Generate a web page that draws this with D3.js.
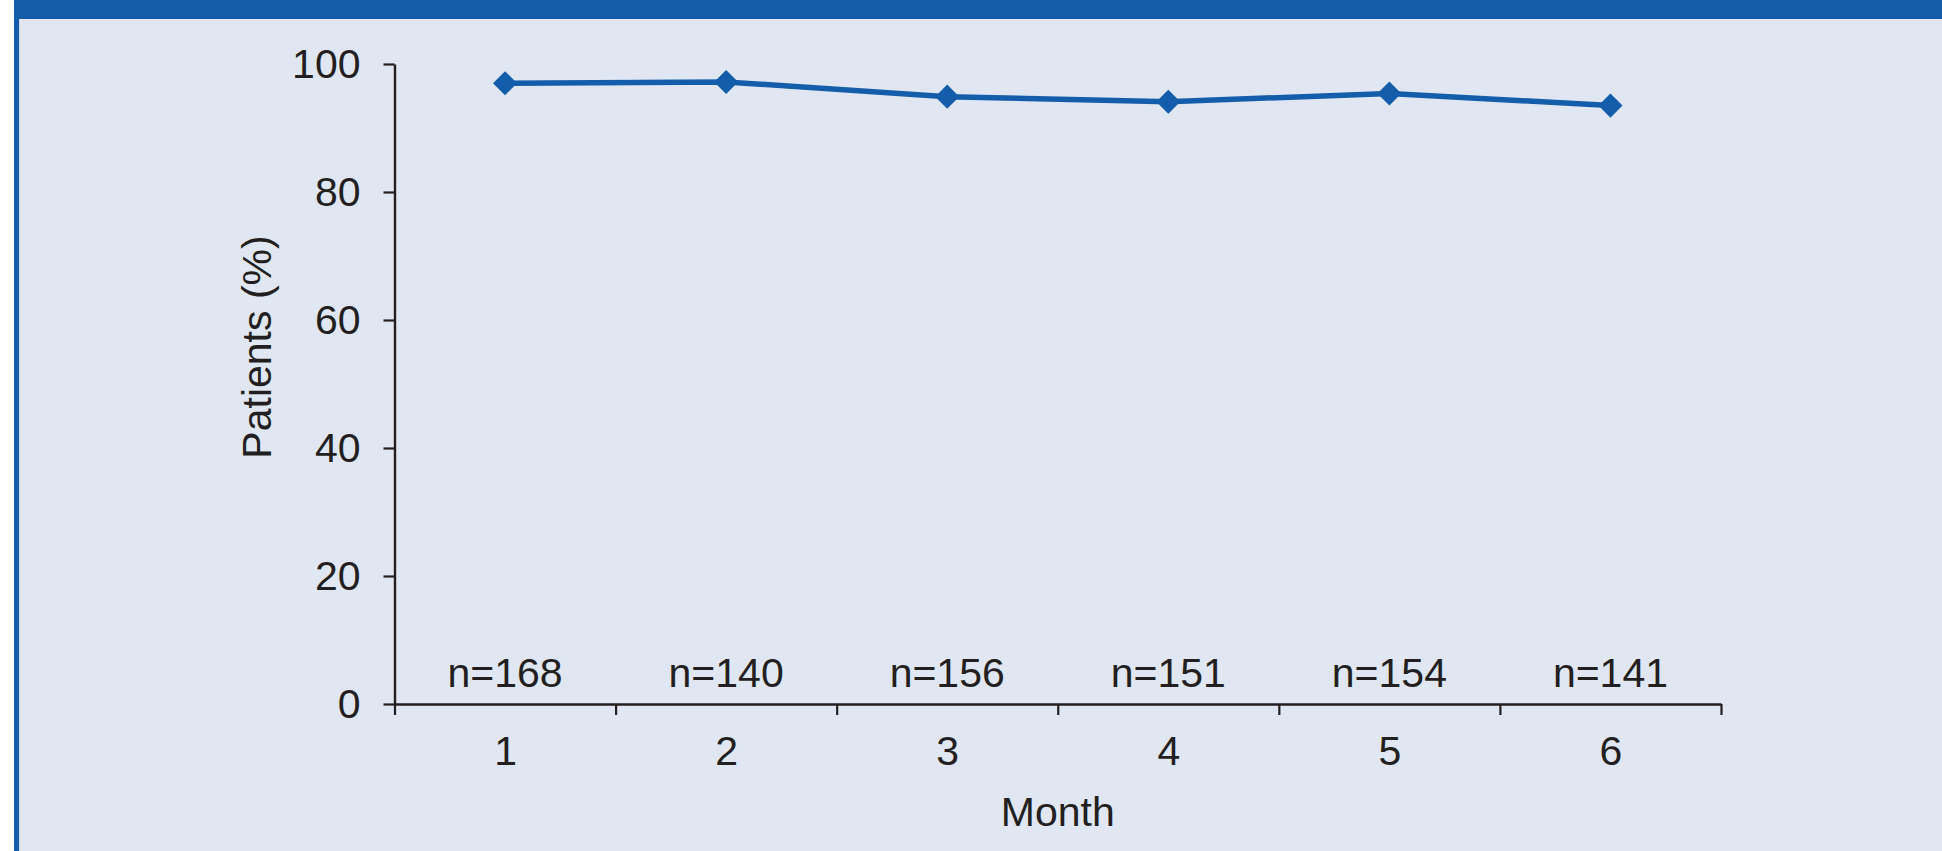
<!DOCTYPE html>
<html>
<head>
<meta charset="utf-8">
<script src="https://cdn.jsdelivr.net/npm/d3@7"></script>
<style>
  html, body { margin: 0; padding: 0; background: #ffffff; }
  svg { display: block; }
  text { font-family: "Liberation Sans", Arial, Helvetica, sans-serif; fill: #231f20; }
</style>
</head>
<body>
<svg id="chart" width="1942" height="851"></svg>
<script>
// ---- data ----
const months = [1, 2, 3, 4, 5, 6];
const patientsPct = [97.0, 97.2, 94.9, 94.1, 95.4, 93.5];
const sampleSizes = [168, 140, 156, 151, 154, 141];
const yTicks = [0, 20, 40, 60, 80, 100];
const yLabel = "Patients (%)";
const xLabel = "Month";

// ---- layout ----
const W = 1942, H = 851;
const plot = { left: 394.5, right: 1721, top: 64, bottom: 704 };
const ink = "#231f20";
const blue = "#135dab";
const bg = "#e0e7f3";
const fontSize = 41;

const svg = d3.select("#chart");

// frame
svg.append("rect").attr("x", 14).attr("y", 0).attr("width", W - 14).attr("height", H).attr("fill", blue);
svg.append("rect").attr("x", 19).attr("y", 19).attr("width", W - 19).attr("height", H - 19).attr("fill", "#c9d6ec");
svg.append("rect").attr("x", 20).attr("y", 19).attr("width", W - 20).attr("height", H - 19).attr("fill", bg);

// scales
const x = d3.scaleLinear().domain([0.5, months.length + 0.5]).range([plot.left, plot.right]);
const y = d3.scaleLinear().domain([0, 100]).range([plot.bottom, plot.top]);

// y axis
const yAxis = svg.append("g")
  .attr("transform", `translate(${plot.left},0)`)
  .call(d3.axisLeft(y).tickValues(yTicks).tickSize(11).tickSizeOuter(0).tickPadding(23));

// x axis: ticks on category boundaries
const bounds = d3.range(0, months.length + 1).map(i => i + 0.5);
const xAxis = svg.append("g")
  .attr("transform", `translate(0,${plot.bottom})`)
  .call(d3.axisBottom(x).tickValues(bounds).tickSize(11).tickSizeOuter(0).tickFormat(""));

// x labels at category centres
const xLab = svg.append("g")
  .attr("transform", `translate(0,${plot.bottom})`)
  .call(d3.axisBottom(x).tickValues(months).tickSize(0).tickPadding(32).tickFormat(d3.format("d")));
xLab.select(".domain").remove();

[yAxis, xAxis, xLab].forEach(g => {
  g.selectAll(".domain").attr("stroke", ink).attr("stroke-width", 2.4);
  g.selectAll(".tick line").attr("stroke", ink).attr("stroke-width", 2.2);
  g.selectAll(".tick text").attr("fill", ink)
    .style("font-size", fontSize + "px")
    .style("font-family", '"Liberation Sans", Arial, Helvetica, sans-serif');
});

// line
const pts = months.map((m, i) => ({ m, v: patientsPct[i], n: sampleSizes[i] }));
svg.append("path")
  .datum(pts)
  .attr("fill", "none")
  .attr("stroke", blue)
  .attr("stroke-width", 5.5)
  .attr("d", d3.line().x(d => x(d.m)).y(d => y(d.v)));

// diamond markers
const diamond = d3.symbol().type(d3.symbolSquare).size(290);
svg.selectAll(".marker")
  .data(pts)
  .join("path")
  .attr("class", "marker")
  .attr("d", diamond)
  .attr("fill", blue)
  .attr("transform", d => `translate(${x(d.m)},${y(d.v)}) rotate(45)`);

// n labels
svg.selectAll(".nlab")
  .data(pts)
  .join("text")
  .attr("class", "nlab")
  .attr("x", d => x(d.m))
  .attr("y", plot.bottom - 17)
  .attr("text-anchor", "middle")
  .style("font-size", fontSize + "px")
  .text(d => "n=" + d.n);

// axis titles
svg.append("text")
  .attr("x", (plot.left + plot.right) / 2)
  .attr("y", 826)
  .attr("text-anchor", "middle")
  .style("font-size", fontSize + "px")
  .text(xLabel);

svg.append("text")
  .attr("transform", "translate(271,347) rotate(-90)")
  .attr("text-anchor", "middle")
  .style("font-size", fontSize + "px")
  .text(yLabel);
</script>
</body>
</html>
